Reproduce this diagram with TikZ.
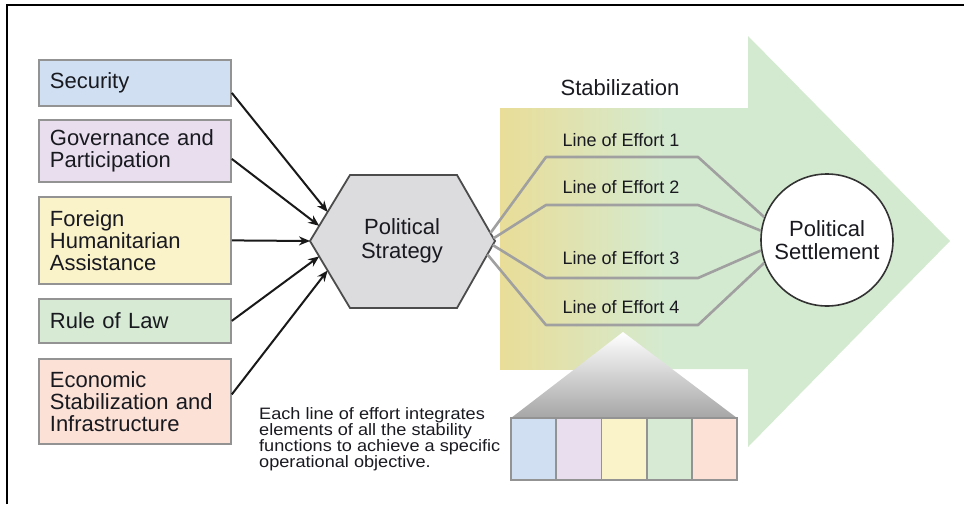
\documentclass[tikz,border=0pt]{standalone}
\usepackage{fontspec}
\setmainfont{Liberation Sans}
\usetikzlibrary{calc,arrows.meta}
\setlength{\lineskiplimit}{-20pt}

\definecolor{secblue}{RGB}{208,224,242}
\definecolor{govlilac}{RGB}{233,222,238}
\definecolor{fhayel}{RGB}{250,243,202}
\definecolor{rolgreen}{RGB}{214,234,212}
\definecolor{econpink}{RGB}{251,225,214}
\definecolor{stabyel}{RGB}{233,221,152}
\definecolor{stabgrn}{RGB}{212,234,208}
\definecolor{hexgray}{RGB}{220,220,223}
\definecolor{loegray}{RGB}{160,160,160}
\definecolor{inkdark}{RGB}{25,25,32}

\tikzset{
  fnbox/.style={draw=gray!85, line width=1.8pt, anchor=north west, text width=170pt,
    inner xsep=11pt, align=left, text=inkdark, font=\fontsize{22}{22}\selectfont},
  feed/.style={-{Stealth[length=11pt,width=9pt]}, line width=2pt, black!90},
  loe/.style={loegray, line width=2.6pt, line join=round},
  loelabel/.style={text=inkdark, font=\fontsize{18}{18}\selectfont},
  cell/.style={draw=gray!85, line width=1.8pt}
}

\begin{document}
\begin{tikzpicture}[x=1pt, y=-1pt]
\useasboundingbox (0,0) rectangle (964,504);
\draw[line width=2.5pt] (7,504) -- (7,5) -- (964,5);

% stabilization arrow, yellow fading into green
\fill[stabgrn] (500,108) -- (748,108) -- (748,36) -- (950,241) -- (748,447) -- (748,369) -- (500,369) -- cycle;
\shade[left color=stabyel, right color=stabgrn] (500,108) rectangle (665,369);
\node[text=inkdark, font=\fontsize{22}{22}\selectfont] (stab) at (620,88) {Stabilization};

% stability functions
\node[fnbox, fill=secblue, minimum height=46pt] (sec) at (38,59) {Security};
\node[fnbox, fill=govlilac, minimum height=62pt] (gov) at (38,119) {Governance and\\Participation};
\node[fnbox, fill=fhayel, minimum height=87pt] (fha) at (38,196) {Foreign\\Humanitarian\\Assistance};
\node[fnbox, fill=rolgreen, minimum height=44pt] (rol) at (38,298) {Rule of Law};
\node[fnbox, fill=econpink, minimum height=85pt] (econ) at (38,358) {Economic\\Stabilization and\\Infrastructure};

% hexagon
\coordinate (hl) at (310,241);
\coordinate (htl) at (350,175);
\coordinate (htr) at (457,175);
\coordinate (hr) at (495,241);
\coordinate (hbr) at (457,308);
\coordinate (hbl) at (350,308);
\draw[fill=hexgray, draw=black!70, line width=1.8pt] (hl) -- (htl) -- (htr) -- (hr) -- (hbr) -- (hbl) -- cycle;
\node[align=center, text=inkdark, font=\fontsize{22}{24}\selectfont] (strat) at (402,241) {Political\\Strategy};

\draw[feed] ([yshift=-10pt]sec.east) -- ($(hl)!.44!(htl)$);
\draw[feed] ([yshift=-8pt]gov.east) -- ($(hl)!.23!(htl)$);
\draw[feed] (fha.east) -- (hl);
\draw[feed] (rol.east) -- ($(hl)!.23!(hbl)$);
\draw[feed] ([yshift=7pt]econ.east) -- ($(hl)!.44!(hbl)$);

% settlement
\node[circle, draw=black!80, fill=white, line width=1.6pt, minimum size=132pt, inner sep=0pt,
  align=center, text=inkdark, font=\fontsize{22}{23}\selectfont] (settle) at (827,240) {Political\\Settlement};

% lines of effort
\draw[loe] ($(hr)!.12!(htr)$) -- (546,157) -- (698,157) -- (settle.160);
\draw[loe] ($(hr)!.04!(htr)$) -- (546,205) -- (698,205) -- (settle.172);
\draw[loe] ($(hr)!.06!(hbr)$) -- (546,278) -- (698,278) -- (settle.189);
\draw[loe] ($(hr)!.2!(hbr)$) -- (546,325) -- (698,325) -- (settle.200);
\node[loelabel] (loe1) at (621,140) {Line of Effort 1};
\node[loelabel] (loe2) at (621,187) {Line of Effort 2};
\node[loelabel] (loe3) at (621,258) {Line of Effort 3};
\node[loelabel] (loe4) at (621,307) {Line of Effort 4};

% one line of effort opened up
\shade[top color=white, bottom color=black!35] (623,332) -- (737,418) -- (511,418) -- cycle;
\foreach \c [count=\i from 0] in {secblue,govlilac,fhayel,rolgreen,econpink}
  \draw[cell, fill=\c] (511+45.2*\i,418) rectangle ++(45.2,62);

\node[anchor=north west, align=left, inner sep=0pt, text=inkdark,
  font=\fontsize{16.5}{16}\selectfont\addfontfeature{FakeStretch=1.1}] (note) at (259,407)
  {Each line of effort integrates\\elements of all the stability\\functions to achieve a specific\\operational objective.};
\end{tikzpicture}
\end{document}
